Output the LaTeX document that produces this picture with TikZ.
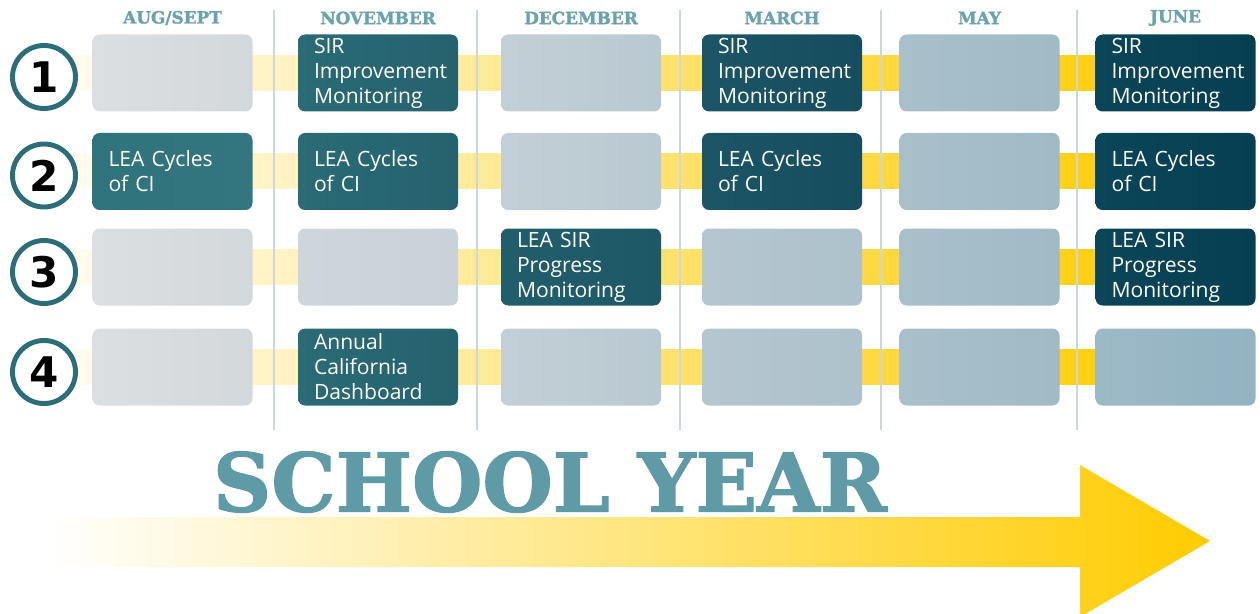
\documentclass[tikz,border=0pt]{standalone}
\usepackage{xcolor}
\usepackage{tikz}
\usepackage{fontspec}
\setmainfont{Open Sans}
\newfontfamily\slabfont{DejaVu Serif}[BoldFeatures={FakeBold=1.6}]
\newfontfamily\numfont{DejaVu Sans}
\usetikzlibrary{positioning, calc}
\definecolor{ringcolor}{RGB}{43,109,120}
\definecolor{monthcolor}{RGB}{106,163,173}
\definecolor{titlecolor}{RGB}{94,155,166}
\definecolor{sepcolor}{RGB}{200,216,223}
\definecolor{bandcolor}{RGB}{255,204,0}
% blank slots, left/right per column
\definecolor{bOneL}{RGB}{220,223,225}\definecolor{bOneR}{RGB}{211,216,220}
\definecolor{bTwoL}{RGB}{207,214,219}\definecolor{bTwoR}{RGB}{200,210,216}
\definecolor{bThreeL}{RGB}{195,207,214}\definecolor{bThreeR}{RGB}{185,201,209}
\definecolor{bFourL}{RGB}{181,198,207}\definecolor{bFourR}{RGB}{173,194,204}
\definecolor{bFiveL}{RGB}{169,192,203}\definecolor{bFiveR}{RGB}{160,186,198}
\definecolor{bSixL}{RGB}{156,185,198}\definecolor{bSixR}{RGB}{147,179,194}
% filled slots
\definecolor{tOneL}{RGB}{47,115,125}\definecolor{tOneR}{RGB}{52,118,128}
\definecolor{tTwoL}{RGB}{42,107,118}\definecolor{tTwoR}{RGB}{36,98,110}
\definecolor{tThreeL}{RGB}{33,94,108}\definecolor{tThreeR}{RGB}{29,88,103}
\definecolor{tFourL}{RGB}{27,85,102}\definecolor{tFourR}{RGB}{22,77,94}
\definecolor{tSixL}{RGB}{10,70,88}\definecolor{tSixR}{RGB}{6,63,81}

\begin{document}
\begin{tikzpicture}[
    slot/.style={rounded corners=4pt, minimum height=1.54cm, text width=2.56cm, inner xsep=0.32cm, inner ysep=0pt, align=left, text=white, font=\fontsize{12}{14.2}\selectfont},
    blank/.style 2 args={slot, left color=#1, right color=#2},
    task/.style 2 args={slot, left color=#1, right color=#2},
    month/.style={font=\slabfont\bfseries\fontsize{9.6}{11}\selectfont, text=monthcolor},
    ring/.style={circle, draw=ringcolor, line width=2.8pt, fill=white, minimum size=1.26cm, inner sep=0pt, font=\numfont\bfseries\fontsize{24}{24}\selectfont},
    sepline/.style={draw=sepcolor, line width=0.6pt}
]
    \useasboundingbox (0,0) rectangle (25.2,12.26);

    % Yellow bands
    \foreach \y in {10.8,8.83,6.92,4.92}
        \shade[left color=white, right color=bandcolor] (0,\y-0.35) rectangle (23.5,\y+0.35);

    % Month separators
    \foreach \x in {5.48,9.54,13.6,17.62,21.54}
        \draw[sepline] (\x,12.06) -- (\x,3.66);

    % Months
    \node[month] (aug) at (3.45,11.9) {AUG/SEPT};
    \node[month] (nov) at (7.56,11.9) {NOVEMBER};
    \node[month] (dec) at (11.62,11.9) {DECEMBER};
    \node[month] (mar) at (15.64,11.9) {MARCH};
    \node[month] (may) at (19.59,11.9) {MAY};
    \node[month] (jun) at (23.51,11.9) {JUNE};

    % Row numbers
    \node[ring] (n1) at (0.88,10.72) {1};
    \node[ring] (n2) at (0.88,8.75) {2};
    \node[ring] (n3) at (0.88,6.82) {3};
    \node[ring] (n4) at (0.88,4.82) {4};

    % Row 1
    \node[blank={bOneL}{bOneR}] (a1) at (3.45,10.8) {};
    \node[task={tTwoL}{tTwoR}] (b1) at (7.56,10.8) {SIR\\Improvement\\Monitoring};
    \node[blank={bThreeL}{bThreeR}] (c1) at (11.62,10.8) {};
    \node[task={tFourL}{tFourR}] (d1) at (15.64,10.8) {SIR\\Improvement\\Monitoring};
    \node[blank={bFiveL}{bFiveR}] (e1) at (19.59,10.8) {};
    \node[task={tSixL}{tSixR}] (f1) at (23.51,10.8) {SIR\\Improvement\\Monitoring};

    % Row 2
    \node[task={tOneL}{tOneR}] (a2) at (3.45,8.83) {LEA Cycles\\of CI};
    \node[task={tTwoL}{tTwoR}] (b2) at (7.56,8.83) {LEA Cycles\\of CI};
    \node[blank={bThreeL}{bThreeR}] (c2) at (11.62,8.83) {};
    \node[task={tFourL}{tFourR}] (d2) at (15.64,8.83) {LEA Cycles\\of CI};
    \node[blank={bFiveL}{bFiveR}] (e2) at (19.59,8.83) {};
    \node[task={tSixL}{tSixR}] (f2) at (23.51,8.83) {LEA Cycles\\of CI};

    % Row 3
    \node[blank={bOneL}{bOneR}] (a3) at (3.45,6.92) {};
    \node[blank={bTwoL}{bTwoR}] (b3) at (7.56,6.92) {};
    \node[task={tThreeL}{tThreeR}] (c3) at (11.62,6.92) {LEA SIR\\Progress\\Monitoring};
    \node[blank={bFourL}{bFourR}] (d3) at (15.64,6.92) {};
    \node[blank={bFiveL}{bFiveR}] (e3) at (19.59,6.92) {};
    \node[task={tSixL}{tSixR}] (f3) at (23.51,6.92) {LEA SIR\\Progress\\Monitoring};

    % Row 4
    \node[blank={bOneL}{bOneR}] (a4) at (3.45,4.92) {};
    \node[task={tTwoL}{tTwoR}] (b4) at (7.56,4.92) {Annual\\California\\Dashboard};
    \node[blank={bThreeL}{bThreeR}] (c4) at (11.62,4.92) {};
    \node[blank={bFourL}{bFourR}] (d4) at (15.64,4.92) {};
    \node[blank={bFiveL}{bFiveR}] (e4) at (19.59,4.92) {};
    \node[blank={bSixL}{bSixR}] (f4) at (23.51,4.92) {};

    % School year arrow
    \shade[left color=white, right color=bandcolor]
        (0.9,1.92) -- (21.6,1.92) -- (21.6,2.96) -- (24.2,1.44) -- (21.6,-0.08) -- (21.6,0.92) -- (0.9,0.92) -- cycle;
    \node[font=\slabfont\bfseries\fontsize{46}{48}\selectfont, text=titlecolor] (year) at (11.0,2.62) {SCHOOL YEAR};
\end{tikzpicture}
\end{document}
